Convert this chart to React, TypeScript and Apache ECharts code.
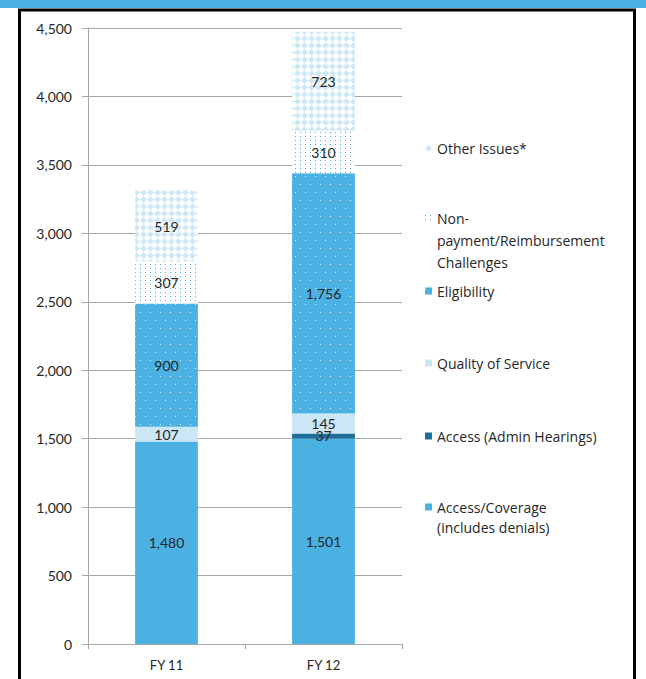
import React, { useEffect, useRef } from "react";
import * as echarts from "echarts";

// Fiscal years on the x axis
const categories = ["FY 11", "FY 12"];

// Stacked segments, bottom to top
const accessCoverage = [1480, 1501];
const accessAdminHearings = [0, 37];
const qualityOfService = [107, 145];
const eligibility = [900, 1756];
const nonPayment = [307, 310];
const otherIssues = [519, 723];

const seriesNames = [
  "Access/Coverage (includes denials)",
  "Access (Admin Hearings)",
  "Quality of Service",
  "Eligibility",
  "Non-payment/Reimbursement Challenges",
  "Other Issues*",
];

const legendLabels: Record<string, string> = {
  "Access/Coverage (includes denials)": "Access/Coverage\n(includes denials)",
  "Non-payment/Reimbursement Challenges": "Non-\npayment/Reimbursement\nChallenges",
};

const FONT = "Lato, 'Open Sans', sans-serif";
const LEGEND_FONT = "'Open Sans', Lato, sans-serif";
const BLUE = "#4bb1e3";
const DARK_BLUE = "#1f6d99";
const PALE_BLUE = "#cbe7f6";
const DIAMOND = "#cfe8f7";
const TEXT = "#262626";
const AXIS = "#a6a6a6";

// Legend swatch that sits beside the first line of a (possibly wrapped) label:
// a 7px square near the top plus invisible specks that span the full text height.
function swatchIcon(lineHeight: number, lines: number) {
  const h = lineHeight * lines;
  const y = lineHeight / 2 - 3.5;
  return `path://M0,0h0.01v0.01h-0.01z M0,${y}h7v7h-7z M0,${h - 0.01}h0.01v0.01h-0.01z`;
}

export default function App() {
  const ref = useRef<HTMLDivElement>(null);

  useEffect(() => {
    if (!ref.current) return;
    const chart = echarts.init(ref.current, undefined, { renderer: "svg" });

    const label = {
      show: true,
      position: "inside",
      color: TEXT,
      fontSize: 14,
      fontFamily: FONT,
      formatter: (p: any) =>
        p.value ? Number(p.value).toLocaleString("en-US") : "",
    };

    const styles = [
      { color: BLUE },
      { color: DARK_BLUE },
      { color: PALE_BLUE },
      {
        color: BLUE,
        decal: {
          symbol: "rect",
          symbolSize: 1,
          color: "rgba(255,255,255,0.85)",
          dashArrayX: [
            [1, 9],
            [0, 5, 1, 4],
          ],
          dashArrayY: [1, 7],
        },
      },
      {
        color: "#ffffff",
        decal: {
          symbol: "rect",
          symbolSize: 1,
          color: BLUE,
          dashArrayX: [1, 4],
          dashArrayY: [1, 3],
        },
      },
      {
        color: "#ffffff",
        decal: {
          symbol: "diamond",
          symbolSize: 1,
          color: DIAMOND,
          dashArrayX: [6.5, 0],
          dashArrayY: [6.5, 0],
        },
      },
    ];

    const values = [
      accessCoverage,
      accessAdminHearings,
      qualityOfService,
      eligibility,
      nonPayment,
      otherIssues,
    ];

    const series = seriesNames.map((name, i) => ({
      name,
      type: "bar",
      stack: "total",
      barWidth: "40%",
      data: values[i],
      itemStyle: styles[i],
      label,
      emphasis: { disabled: true },
    }));

    // Legend rows: vertical centre of the first text line and line spacing
    const legendRows = [
      { name: "Other Issues*", cy: 148, lh: 20, lines: 1 },
      { name: "Non-payment/Reimbursement Challenges", cy: 218, lh: 22, lines: 3 },
      { name: "Eligibility", cy: 291, lh: 20, lines: 1 },
      { name: "Quality of Service", cy: 363, lh: 20, lines: 1 },
      { name: "Access (Admin Hearings)", cy: 436, lh: 20, lines: 1 },
      { name: "Access/Coverage (includes denials)", cy: 507, lh: 20, lines: 2 },
    ];

    const legend = legendRows.map((r) => ({
      data: [r.name],
      left: 425,
      top: r.cy - r.lh / 2,
      orient: "vertical",
      padding: 0,
      itemWidth: 7,
      itemHeight: r.lh * r.lines,
      itemGap: 0,
      selectedMode: false,
      icon: swatchIcon(r.lh, r.lines),
      formatter: (n: string) => legendLabels[n] ?? n,
      textStyle: {
        color: TEXT,
        fontSize: 14,
        fontFamily: LEGEND_FONT,
        lineHeight: r.lh,
      },
    }));

    chart.setOption({
      animation: false,
      backgroundColor: "#ffffff",
      grid: { left: 88, right: 244, top: 28, bottom: 35 },
      legend,
      xAxis: {
        type: "category",
        data: categories,
        axisLine: { lineStyle: { color: AXIS } },
        axisTick: { show: true, length: 5, lineStyle: { color: AXIS } },
        axisLabel: {
          color: TEXT,
          fontSize: 13,
          fontFamily: FONT,
          margin: 14,
        },
      },
      yAxis: {
        type: "value",
        min: 0,
        max: 4500,
        interval: 500,
        axisLine: { show: true, lineStyle: { color: AXIS } },
        axisTick: { show: true, length: 6, lineStyle: { color: AXIS } },
        splitLine: { lineStyle: { color: AXIS } },
        axisLabel: {
          color: TEXT,
          fontSize: 14,
          fontFamily: FONT,
          margin: 16,
          formatter: (v: number) => v.toLocaleString("en-US"),
        },
      },
      graphic: [
        {
          type: "rect",
          z: -10,
          shape: { x: 0, y: 0, width: 646, height: 8 },
          style: { fill: BLUE },
        },
        {
          type: "rect",
          z: -10,
          shape: { x: 19.5, y: 10, width: 615, height: 720 },
          style: { fill: "none", stroke: "#000000", lineWidth: 3 },
        },
      ],
      series,
    });

    return () => chart.dispose();
  }, []);

  return (
    <div
      ref={ref}
      style={{ position: "fixed", left: 0, top: 0, width: 646, height: 679 }}
    />
  );
}
